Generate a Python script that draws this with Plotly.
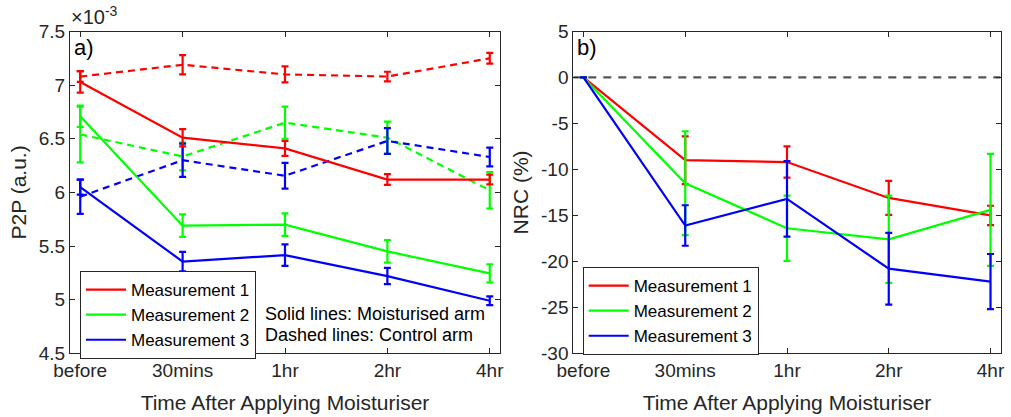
import plotly.graph_objects as go

# ---------------- data ----------------
times = ["before", "30mins", "1hr", "2hr", "4hr"]
xi = [0, 1, 2, 3, 4]

# Panel a) P2P values in units of 1e-3
m1_moist = [7.03, 6.51, 6.41, 6.12, 6.12]
m1_moist_err = [0.10, 0.08, 0.07, 0.05, 0.045]
m2_moist = [6.71, 5.69, 5.70, 5.45, 5.245]
m2_moist_err = [0.10, 0.105, 0.105, 0.105, 0.085]
m3_moist = [6.05, 5.355, 5.415, 5.22, 4.99]
m3_moist_err = [0.07, 0.09, 0.10, 0.076, 0.04]

m1_ctrl = [7.08, 7.19, 7.10, 7.08, 7.25]
m1_ctrl_err = [0.05, 0.09, 0.075, 0.045, 0.05]
m2_ctrl = [6.54, 6.335, 6.65, 6.51, 6.02]
m2_ctrl_err = [0.26, 0.13, 0.15, 0.15, 0.17]
m3_ctrl = [5.96, 6.30, 6.155, 6.48, 6.33]
m3_ctrl_err = [0.16, 0.155, 0.12, 0.12, 0.087]

# Panel b) NRC (%)
nrc1 = [0, -9.0, -9.2, -13.1, -15.0]
nrc1_err = [0, 2.6, 1.7, 1.85, 1.05]
nrc2 = [0, -11.5, -16.4, -17.6, -14.4]
nrc2_err = [0, 5.65, 3.55, 4.75, 6.1]
nrc3 = [0, -16.1, -13.2, -20.8, -22.2]
nrc3_err = [0, 2.2, 4.1, 3.9, 3.0]

names = ["Measurement 1", "Measurement 2", "Measurement 3"]
colors = ["#FF0000", "#00FF00", "#0000FF"]

y1_ticks = [4.5, 5, 5.5, 6, 6.5, 7, 7.5]
y2_ticks = [5, 0, -5, -10, -15, -20, -25, -30]

# ---------------- figure ----------------
W, H = 1011, 417
FONT = "Liberation Sans, Arial, sans-serif"
AX = "#262626"
LW = 2.2

fig = go.Figure()

def add(x, y, err, color, name, dash, xa, ya, showlegend, legend):
    fig.add_trace(go.Scatter(
        x=x, y=y, mode="lines", name=name,
        line=dict(color=color, width=LW, dash=dash),
        error_y=dict(type="data", array=err, visible=True, color=color,
                     thickness=2.2, width=3.5),
        xaxis=xa, yaxis=ya, showlegend=showlegend, legend=legend,
    ))

moist = [(m1_moist, m1_moist_err), (m2_moist, m2_moist_err), (m3_moist, m3_moist_err)]
ctrl = [(m1_ctrl, m1_ctrl_err), (m2_ctrl, m2_ctrl_err), (m3_ctrl, m3_ctrl_err)]
nrc = [(nrc1, nrc1_err), (nrc2, nrc2_err), (nrc3, nrc3_err)]

for (y, e), c, n in zip(ctrl, colors, names):
    add(xi, y, e, c, n, "7px,5px", "x", "y", False, "legend")
for (y, e), c, n in zip(moist, colors, names):
    add(xi, y, e, c, n, "solid", "x", "y", True, "legend")
for (y, e), c, n in zip(nrc, colors, names):
    add(xi, y, e, c, n, "solid", "x2", "y2", True, "legend2")

# zero reference line on panel b
fig.add_shape(type="line", xref="x2", yref="y2", x0=-0.1, x1=4.1, y0=0, y1=0,
              line=dict(color="#555555", width=2.2, dash="8px,7px"), layer="below")

ytop = 1 - 31.5 / H
ybot = 1 - 353.3 / H

axis_common = dict(
    showline=True, mirror="ticks", linecolor=AX, linewidth=1,
    ticks="inside", ticklen=5, tickcolor=AX, tickwidth=1,
    showgrid=False, zeroline=False,
    tickfont=dict(family=FONT, size=19, color=AX),
    automargin=False,
)

xaxis_common = dict(axis_common, range=[-0.1, 4.1], tickmode="array",
                    tickvals=xi, ticktext=times,
                    title=dict(text="Time After Applying Moisturiser",
                               font=dict(family=FONT, size=21, color=AX), standoff=15))

legend_common = dict(xanchor="left", yanchor="top",
                     bordercolor=AX, borderwidth=1, bgcolor="white",
                     font=dict(family=FONT, size=17, color="#000000"),
                     itemwidth=40, tracegroupgap=0)

fig.update_layout(
    width=W, height=H,
    margin=dict(l=0, r=0, t=0, b=0),
    paper_bgcolor="white", plot_bgcolor="white",
    font=dict(family=FONT, color=AX),
    xaxis=dict(xaxis_common, domain=[70 / W, 500 / W], anchor="y"),
    xaxis2=dict(xaxis_common, domain=[573.3 / W, 1000.7 / W], anchor="y2"),
    yaxis=dict(axis_common, domain=[ybot, ytop], range=[4.5, 7.5], anchor="x",
               tickmode="array", tickvals=y1_ticks,
               ticktext=[("%g" % v) for v in y1_ticks],
               title=dict(text="P2P (a.u.)", font=dict(family=FONT, size=21, color=AX),
                          standoff=6)),
    yaxis2=dict(axis_common, domain=[ybot, ytop], range=[-30, 5], anchor="x2",
                tickmode="array", tickvals=y2_ticks,
                ticktext=[("%g" % v) for v in y2_ticks],
                title=dict(text="NRC (%)", font=dict(family=FONT, size=21, color=AX),
                           standoff=6)),
    legend=dict(legend_common, x=80 / W, y=1 - 271 / H),
    legend2=dict(legend_common, x=582.7 / W, y=1 - 267 / H),
    showlegend=True,
)

ann_font = dict(family=FONT, size=18, color="#000000")
fig.add_annotation(xref="paper", yref="paper", x=263 / W, y=1 - 314 / H,
                   xanchor="left", yanchor="middle", showarrow=False,
                   text="Solid lines: Moisturised arm", font=ann_font)
fig.add_annotation(xref="paper", yref="paper", x=263 / W, y=1 - 335 / H,
                   xanchor="left", yanchor="middle", showarrow=False,
                   text="Dashed lines: Control arm", font=ann_font)
fig.add_annotation(xref="paper", yref="paper", x=72 / W, y=1 - 48 / H,
                   xanchor="left", yanchor="middle", showarrow=False,
                   text="a)", font=dict(family=FONT, size=22, color="#000000"))
fig.add_annotation(xref="paper", yref="paper", x=575 / W, y=1 - 48 / H,
                   xanchor="left", yanchor="middle", showarrow=False,
                   text="b)", font=dict(family=FONT, size=22, color="#000000"))
fig.add_annotation(xref="paper", yref="paper", x=69 / W, y=1 - 30 / H,
                   xanchor="left", yanchor="bottom", showarrow=False,
                   text="×10<sup>-3</sup>", font=dict(family=FONT, size=20, color=AX))

fig.write_html("out.html")
